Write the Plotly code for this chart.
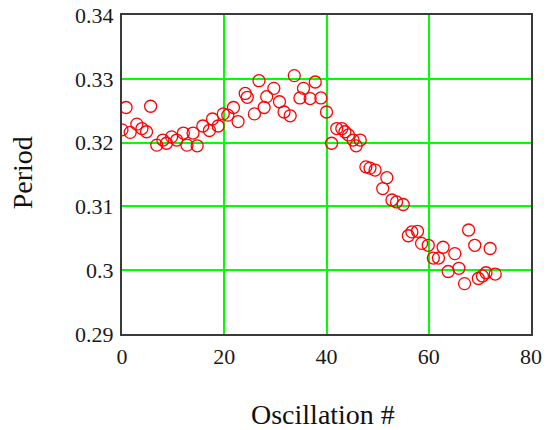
import plotly.graph_objects as go

oscillation = [0.0, 0.8, 1.6, 2.9, 3.9, 4.8, 5.6, 6.8, 8.0, 8.7, 9.7, 10.7, 12.0, 12.7, 13.9, 14.7,
               15.8, 17.1, 17.7, 18.8,
               19.8, 20.7, 21.8, 22.7, 24.1, 24.5, 25.9, 26.8, 27.8, 28.3, 29.7, 30.8, 31.7, 32.9,
               33.7, 34.8, 35.5, 36.8, 37.8, 38.9, 40.0,
               41.0, 42.0, 43.0, 43.6, 44.3, 45.2, 45.8, 46.6, 47.7, 48.5, 49.5, 51.0, 51.8, 52.8,
               53.7, 55.0,
               56.0, 56.7, 57.8, 58.6, 59.9, 60.9, 61.9, 62.8, 63.8, 65.1, 65.9, 67.0, 67.8, 69.0,
               69.7, 70.5, 71.2, 72.0, 73.0]
period = [0.3220, 0.3255, 0.3216, 0.3229, 0.3222, 0.3217, 0.3257, 0.3196, 0.3204, 0.3199, 0.3209,
          0.3204, 0.3215, 0.3196, 0.3215, 0.3195, 0.3226, 0.3219, 0.3237, 0.3226,
          0.3245, 0.3243, 0.3255, 0.3233, 0.3277, 0.3271, 0.3245, 0.3297, 0.3255, 0.3272, 0.3285,
          0.3264, 0.3248, 0.3242, 0.3305, 0.3270, 0.3285, 0.3269, 0.3295, 0.3270, 0.3248,
          0.3199, 0.3222, 0.3222, 0.3217, 0.3212, 0.3204, 0.3195, 0.3204, 0.3162, 0.3160, 0.3157,
          0.3128, 0.3145, 0.3110, 0.3107, 0.3103,
          0.3054, 0.3060, 0.3061, 0.3042, 0.3039, 0.3019, 0.3019, 0.3036, 0.2998, 0.3026, 0.3003,
          0.2979, 0.3063, 0.3039, 0.2987, 0.2991, 0.2996, 0.3034, 0.2994]

x_ticks = [0, 20, 40, 60, 80]
y_ticks = [0.29, 0.30, 0.31, 0.32, 0.33, 0.34]
y_tick_labels = ["0.29", "0.3", "0.31", "0.32", "0.33", "0.34"]

FONT = "Liberation Serif, Times New Roman, serif"

fig = go.Figure()
fig.add_trace(go.Scatter(
    x=oscillation, y=period, mode="markers",
    marker=dict(symbol="circle-open", size=12, color="#ff0000", line=dict(width=1.3, color="#ff0000")),
    showlegend=False,
))

fig.update_layout(
    width=549, height=430,
    margin=dict(l=122, r=18, t=15, b=96),
    paper_bgcolor="white", plot_bgcolor="white",
    font=dict(family=FONT, size=22, color="#1a1a1a"),
    xaxis=dict(range=[0, 80], tickvals=x_ticks, ticktext=[str(v) for v in x_ticks],
               showgrid=True, gridcolor="#00ff00", gridwidth=2, zeroline=False,
               showline=True, linecolor="#3a3a3a", linewidth=2, mirror=True,
               ticks="", ticklabelstandoff=2, automargin=False),
    yaxis=dict(range=[0.29, 0.34], tickvals=y_ticks, ticktext=y_tick_labels,
               showgrid=True, gridcolor="#00ff00", gridwidth=2, zeroline=False,
               showline=True, linecolor="#3a3a3a", linewidth=2, mirror=True,
               ticks="", ticklabelstandoff=2, automargin=False),
    annotations=[
        dict(text="Oscillation #", xref="paper", yref="paper", x=0.491, y=-0.251,
             xanchor="center", yanchor="middle", showarrow=False,
             font=dict(family=FONT, size=28, color="#111111")),
        dict(text="Period", xref="paper", yref="paper", x=-0.243, y=0.5056,
             xanchor="center", yanchor="middle", showarrow=False, textangle=-90,
             font=dict(family=FONT, size=28, color="#111111")),
    ],
)

fig.write_html("out.html", config={"displayModeBar": False},
               post_script="document.body.style.margin='0';")
